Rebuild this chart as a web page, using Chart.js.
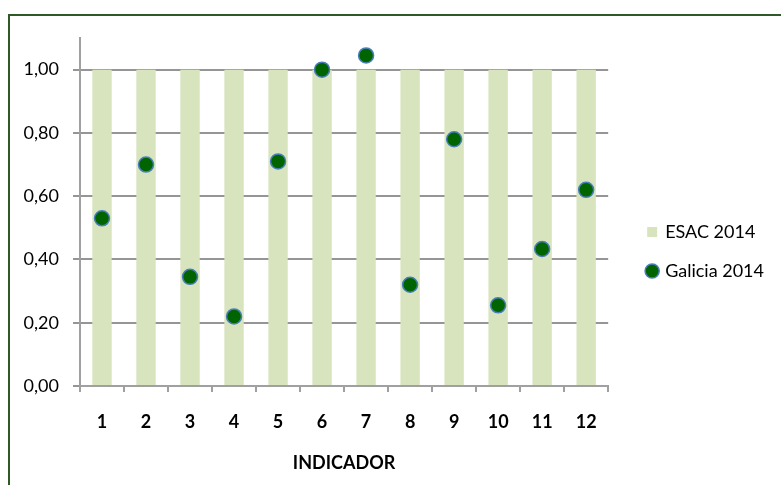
<!DOCTYPE html>
<html>
<head>
<meta charset="utf-8">
<script src="https://cdn.jsdelivr.net/npm/chart.js@4/dist/chart.umd.min.js"></script>
<style>
  html, body { margin: 0; padding: 0; background: #ffffff; overflow: hidden; }
  #wrap { position: relative; width: 781px; height: 485px; overflow: hidden; background: #ffffff; }
  #frame { position: absolute; left: 8px; top: 14px; width: 900px; height: 600px; border: 2px solid #2f5a27; box-sizing: border-box; }
  #c { position: absolute; left: 0; top: 0; }
</style>
</head>
<body>
<div id="wrap">
  <div id="frame"></div>
  <canvas id="c" width="781" height="485"></canvas>
</div>
<script>
const categories = ['1', '2', '3', '4', '5', '6', '7', '8', '9', '10', '11', '12'];
const esac2014 = [1.00, 1.00, 1.00, 1.00, 1.00, 1.00, 1.00, 1.00, 1.00, 1.00, 1.00, 1.00];
const galicia2014 = [0.53, 0.70, 0.345, 0.22, 0.71, 1.00, 1.045, 0.32, 0.78, 0.255, 0.433, 0.62];
const yTickValues = [0, 0.2, 0.4, 0.6, 0.8, 1.0];
const seriesNames = ['ESAC 2014', 'Galicia 2014'];
const axisTitle = 'INDICADOR';

function draw() {
  Chart.defaults.font.family = 'Lato, "Open Sans", sans-serif';
  Chart.defaults.color = '#000000';

  new Chart(document.getElementById('c'), {
    type: 'bar',
    data: {
      labels: categories,
      datasets: [
        {
          label: seriesNames[0],
          data: esac2014,
          backgroundColor: '#d7e4bd',
          borderWidth: 0,
          barPercentage: 0.44,
          categoryPercentage: 1.0,
          pointStyle: 'rect',
          order: 2
        },
        {
          type: 'line',
          label: seriesNames[1],
          data: galicia2014,
          showLine: false,
          pointStyle: 'circle',
          pointRadius: 7.5,
          pointBorderWidth: 1.5,
          pointBackgroundColor: '#006400',
          pointBorderColor: '#4a7ebb',
          backgroundColor: '#006400',
          borderColor: '#4a7ebb',
          borderWidth: 1.5,
          order: 1
        }
      ]
    },
    options: {
      responsive: false,
      devicePixelRatio: 1,
      animation: false,
      layout: { padding: { top: 38, left: 0, right: 7, bottom: 20 } },
      plugins: {
        tooltip: { enabled: false },
        legend: {
          position: 'right',
          align: 'center',
          maxWidth: 220,
          labels: {
            usePointStyle: true,
            boxWidth: 8,
            boxHeight: 10,
            padding: 21,
            font: { size: 18 },
            color: '#000000',
            sort: (a, b) => a.datasetIndex - b.datasetIndex
          }
        }
      },
      scales: {
        x: {
          grid: {
            display: true,
            drawOnChartArea: false,
            drawTicks: true,
            tickLength: 6,
            color: '#a0a0a0',
            lineWidth: 2,
            offset: true
          },
          border: { display: true, color: '#a0a0a0', width: 2 },
          ticks: { font: { size: 18, weight: 'bold' }, padding: 19, color: '#000000' },
          title: {
            display: true,
            text: axisTitle,
            font: { size: 18, weight: 'bold' },
            color: '#000000',
            padding: { top: 0, bottom: -9 }
          },
          afterFit: (s) => { s.height = 79; }
        },
        y: {
          min: 0,
          max: 1.1,
          ticks: {
            stepSize: 0.2,
            padding: 14,
            font: { size: 18 },
            color: '#000000',
            callback: (v) => Number(v).toFixed(2).replace('.', ',')
          },
          afterBuildTicks: (s) => {
            s.ticks = yTickValues.map(v => ({ value: v }));
          },
          grid: {
            color: '#959595',
            lineWidth: 2,
            drawTicks: true,
            tickLength: 7
          },
          border: { display: true, color: '#a0a0a0', width: 2 },
          afterFit: (s) => { s.width = 80; }
        },
        yGap: {
          position: 'right',
          display: true,
          grid: { display: false, drawTicks: false },
          border: { display: false },
          ticks: { display: false },
          afterFit: (s) => { s.width = 19; }
        }
      }
    }
  });
}

const fontLoads = document.fonts && document.fonts.load
  ? Promise.all([document.fonts.load('18px Lato'), document.fonts.load('bold 18px Lato')])
  : Promise.resolve();
fontLoads.then(draw, draw);
</script>
</body>
</html>
